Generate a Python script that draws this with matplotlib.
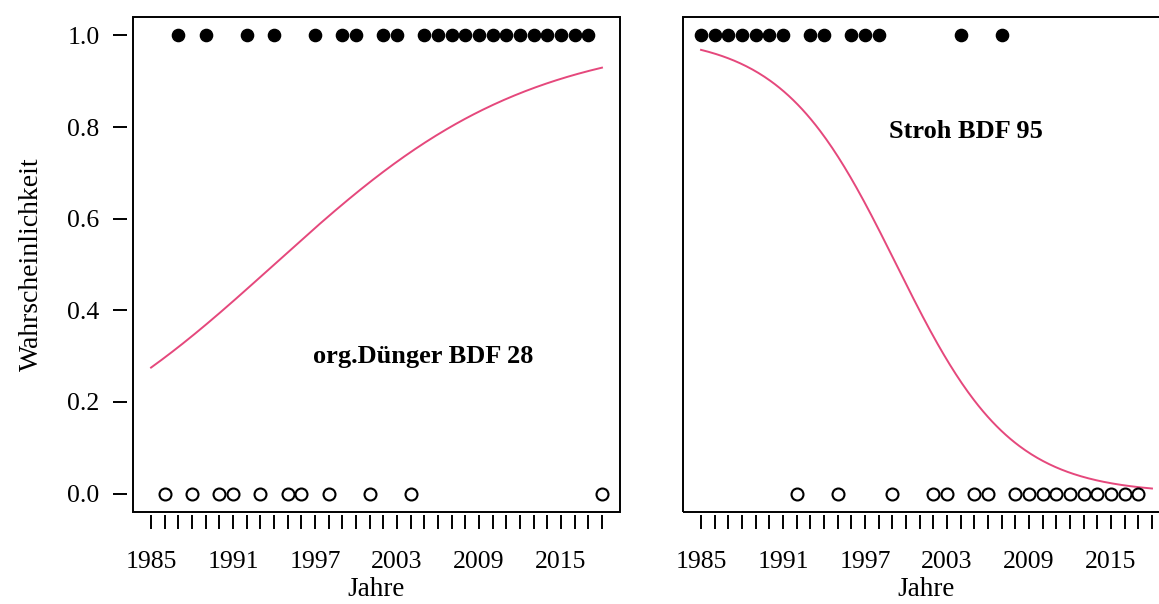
import numpy as np
import matplotlib
matplotlib.use('Agg')
import matplotlib.pyplot as plt
from matplotlib.patches import Rectangle

plt.rcParams['font.family'] = ['Liberation Serif', 'DejaVu Serif']

# Beobachtungen je Jahr (1 = vorhanden, 0 = nicht vorhanden)
years_28_one = [1987, 1989, 1992, 1994, 1997, 1999, 2000, 2002, 2003,
                2005, 2006, 2007, 2008, 2009, 2010, 2011, 2012, 2013,
                2014, 2015, 2016, 2017]
years_28_zero = [1986, 1988, 1990, 1991, 1993, 1995, 1996, 1998, 2001,
                 2004, 2018]
years_95_one = [1985, 1986, 1987, 1988, 1989, 1990, 1991, 1993, 1994,
                1996, 1997, 1998, 2004, 2007]
years_95_zero = [1992, 1995, 1999, 2002, 2003, 2005, 2006, 2008, 2009,
                 2010, 2011, 2012, 2013, 2014, 2015, 2016, 2017]

labels = ['org.Dünger BDF 28', 'Stroh BDF 95']
label_pos = [(2004.9, 0.30), (2004.4, 0.79)]
year_range = (1985, 2018)
tick_labels = [1985, 1991, 1997, 2003, 2009, 2015]

curve_color = '#e5487c'


def fit_logit(x, y, n_iter=50):
    # logistische Regression per IRLS, x zentriert
    xc = x - x.mean()
    X = np.column_stack([np.ones_like(xc), xc])
    beta = np.zeros(2)
    for _ in range(n_iter):
        p = 1 / (1 + np.exp(-X @ beta))
        w = p * (1 - p)
        z = X @ beta + (y - p) / w
        beta = np.linalg.solve(X.T @ (X * w[:, None]), X.T @ (w * z))
    return lambda t: 1 / (1 + np.exp(-(beta[0] + beta[1] * (t - x.mean()))))


fig = plt.figure(figsize=(11.59, 6.04), dpi=100)
ax_w, ax_h = 487 / 1159, 495 / 604
ax_b = 92 / 604
axes = [fig.add_axes([133 / 1159, ax_b, ax_w, ax_h]),
        fig.add_axes([683 / 1159, ax_b, ax_w, ax_h])]

data = [(years_28_one, years_28_zero), (years_95_one, years_95_zero)]
all_years = np.arange(year_range[0], year_range[1] + 1)

for i, (ax, (ones, zeros)) in enumerate(zip(axes, data)):
    x = np.array(ones + zeros, dtype=float)
    y = np.array([1] * len(ones) + [0] * len(zeros), dtype=float)
    f = fit_logit(x, y)
    t = np.linspace(year_range[0], year_range[1], 300)
    ax.plot(t, f(t), color=curve_color, lw=1.4, zorder=2)

    ax.plot(ones, np.ones(len(ones)), 'o', color='black', ms=8.8, zorder=3)
    ax.plot(zeros, np.zeros(len(zeros)), 'o', mfc='white', mec='black',
            mew=1.5, ms=8.6, zorder=3)

    ax.text(label_pos[i][0], label_pos[i][1], labels[i], fontsize=19,
            fontweight='bold', ha='center', va='center')

    span = year_range[1] - year_range[0]
    ax.set_xlim(year_range[0] - 0.04 * span, year_range[1] + 0.04 * span)
    ax.set_ylim(-0.04, 1.04)

    ax.set_xticks(all_years)
    ax.set_xticklabels([str(v) if v in tick_labels else '' for v in all_years])
    ax.tick_params(axis='x', direction='out', length=10, width=1.4,
                   labelsize=18.5, pad=16, color='black')
    ax.set_xlabel('Jahre', fontsize=19.5, labelpad=3)

    # Rahmen als eigenes Rechteck, Achsenlinien nur für versetzte Ticks
    for s in ax.spines.values():
        s.set_visible(False)
    ax.spines['bottom'].set_visible(True)
    ax.spines['bottom'].set_color('none')
    ax.spines['bottom'].set_position(('outward', 2))
    ax.add_patch(Rectangle((0, 0), 1, 1, transform=ax.transAxes, fill=False,
                           lw=1.4, ec='black', clip_on=False, zorder=5))

    if i == 0:
        ax.spines['left'].set_visible(True)
        ax.spines['left'].set_color('none')
        ax.spines['left'].set_position(('outward', 4))
        ax.set_yticks(np.arange(0, 1.01, 0.2))
        ax.set_yticklabels([f'{v:.1f}' for v in np.arange(0, 1.01, 0.2)])
        ax.tick_params(axis='y', direction='out', length=10, width=1.4,
                       labelsize=18.5, pad=10, color='black')
        ax.set_ylabel('Wahrscheinlichkeit', fontsize=20, labelpad=17)
    else:
        ax.set_yticks([])

fig.savefig('out.png', dpi=100)
